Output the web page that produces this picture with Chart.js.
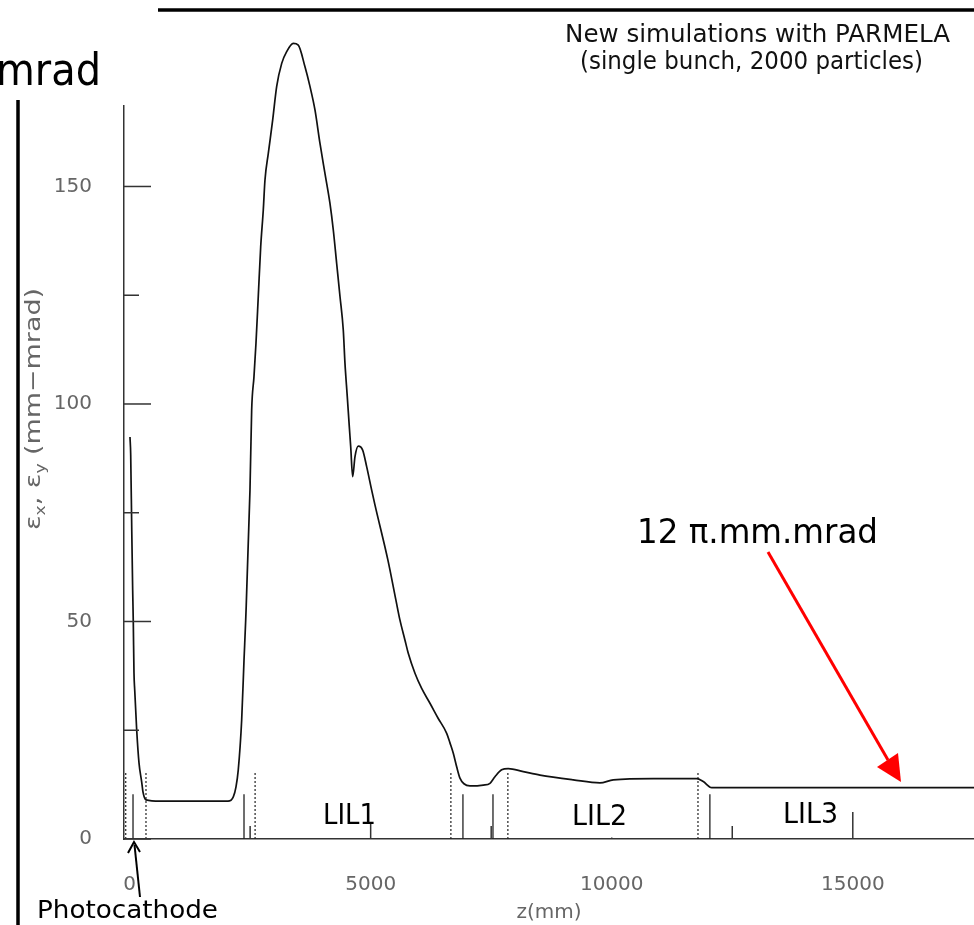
<!DOCTYPE html>
<html><head><meta charset="utf-8">
<script src="https://cdn.jsdelivr.net/npm/chart.js@4.4.1/dist/chart.umd.min.js"></script>
<style>
html,body{margin:0;padding:0;background:#fff;}
#wrap{position:relative;width:974px;height:925px;overflow:hidden;background:#fff;}
#c{position:absolute;left:0;top:0;}
#ann{position:absolute;left:0;top:0;pointer-events:none;}
</style></head><body>
<div id="wrap">
<canvas id="c" width="974" height="925"></canvas>
<svg id="ann" width="974" height="925" font-family="DejaVu Sans, sans-serif">
  <line x1="158" y1="10" x2="974" y2="10" stroke="#000" stroke-width="3.5"/>
  <line x1="18" y1="100" x2="18" y2="925" stroke="#000" stroke-width="3.5"/>
  <text x="-4" y="85" font-size="44" textLength="105" lengthAdjust="spacingAndGlyphs" fill="#000">mrad</text>
  <text x="565" y="42" font-size="24" textLength="385" lengthAdjust="spacingAndGlyphs" fill="#111">New simulations with PARMELA</text>
  <text x="580" y="68.5" font-size="24" textLength="343" lengthAdjust="spacingAndGlyphs" fill="#111">(single bunch, 2000 particles)</text>
  <text x="637" y="543" font-size="34" textLength="241" lengthAdjust="spacingAndGlyphs" fill="#000">12 π.mm.mrad</text>
  <rect x="318" y="798" width="64" height="26" fill="#fff"/>
  <text x="323" y="824" font-size="29" textLength="53" lengthAdjust="spacingAndGlyphs" fill="#000">LIL1</text>
  <rect x="566" y="798" width="68" height="39.5" fill="#fff"/>
  <text x="572" y="825" font-size="29" textLength="55" lengthAdjust="spacingAndGlyphs" fill="#000">LIL2</text>
  <text x="783" y="823" font-size="29" textLength="55" lengthAdjust="spacingAndGlyphs" fill="#000">LIL3</text>
  <text x="37" y="918" font-size="25" textLength="181" lengthAdjust="spacingAndGlyphs" fill="#000">Photocathode</text>
  <line x1="768" y1="552" x2="888" y2="760" stroke="#f00" stroke-width="3"/>
  <polygon points="901,782 877,767 898,753" fill="#f00"/>
  <line x1="140" y1="897" x2="134.5" y2="845" stroke="#000" stroke-width="2"/>
  <polyline points="128,853 134,842 140,852" fill="none" stroke="#000" stroke-width="2"/>
  <text x="40" y="409" transform="rotate(-90 40 409)" text-anchor="middle" font-size="22" fill="#666" textLength="242" lengthAdjust="spacingAndGlyphs">ε<tspan font-size="14" dy="5">x</tspan><tspan dy="-5">, ε</tspan><tspan font-size="14" dy="5">y</tspan><tspan dy="-5"> (mm−mrad)</tspan></text>
</svg>
</div>
<script>
// z positions (mm) and emittance values (mm-mrad)
const zPositions = [8, 23, 44, 64, 77, 91, 106, 147, 195, 251, 278, 340, 630, 1253, 2041,
  2151, 2207, 2254, 2325, 2373, 2408, 2497, 2532, 2580, 2621, 2669, 2719, 2773, 2808, 2877,
  2968, 3051, 3155, 3258, 3395, 3499, 3638, 3741, 3845, 3949, 4052, 4156, 4225, 4295, 4364,
  4432, 4467, 4515, 4557, 4586, 4627, 4675, 4743, 4834, 4917, 5021, 5089, 5358, 5524, 5608,
  5712, 5780, 5919, 6058, 6230, 6402, 6577, 6645, 6714, 6784, 6852, 6935, 7060, 7336, 7475,
  7578, 7717, 7854, 8165, 8512, 9202, 9756, 10032, 10862, 11762, 11899, 12073, 13074, 17514];
const emittance = [92.4, 88.3, 71.7, 57.2, 49.7, 38.2, 34.3, 25.1, 17.5, 13.1, 10.8, 9.0, 8.7, 8.7, 8.7,
  9.7, 12.0, 15.9, 27.4, 41.1, 50.3, 80.2, 98.6, 106.3, 113.9, 124.7, 136.1, 144.6, 151.5, 157.6,
  165.3, 173.0, 178.3, 181.0, 182.9, 182.5, 177.5, 173.0, 167.6, 159.9, 153.0, 146.1, 140.0, 132.3, 124.7,
  117.0, 109.4, 101.7, 94.8, 90.2, 83.3, 87.9, 90.3, 89.4, 85.6, 80.2, 76.8, 64.1, 54.9, 50.3,
  45.7, 42.7, 38.1, 34.6, 31.2, 27.7, 24.3, 22.1, 19.7, 16.6, 14.0, 12.7, 12.2, 12.4, 12.8,
  14.3, 15.9, 16.2, 15.5, 14.7, 13.6, 12.9, 13.6, 13.9, 13.9, 13.2, 11.8, 11.8, 11.8];
// beam-line element markers
const solidMarkerZ = [71, 2373, 6914, 7537, 12036];
const solidMarkerHeight = 10.3;
const dottedMarkerZ = [-80, 340, 2603, 6664, 7846, 11789];
const dottedMarkerHeight = 15.2;
// axes
const xTickValues = [0, 2500, 5000, 7500, 10000, 12500, 15000];
const yTickValues = [0, 25, 50, 75, 100, 125, 150];
const xRange = [-116, 17514];
const yRange = [0, 168.5];

function markerSegments(zs, h) {
  const d = [];
  zs.forEach(z => { d.push({x: z, y: 0}, {x: z, y: h}, {x: z, y: null}); });
  return d;
}

const tickMarks = {
  id: 'tickMarks',
  afterDatasetsDraw(chart) {
    const ctx = chart.ctx, xs = chart.scales.x, ys = chart.scales.y;
    const a = chart.chartArea;
    ctx.save();
    ctx.strokeStyle = '#333';
    ctx.lineWidth = 1.5;
    xs.ticks.forEach(t => {
      if (t.value === 0) return;
      const px = xs.getPixelForValue(t.value);
      const len = t.value % 5000 === 0 ? 27 : 13;
      ctx.beginPath(); ctx.moveTo(px, a.bottom); ctx.lineTo(px, a.bottom - len); ctx.stroke();
    });
    ys.ticks.forEach(t => {
      const py = ys.getPixelForValue(t.value);
      const len = t.value % 50 === 0 ? 27 : 15;
      ctx.beginPath(); ctx.moveTo(a.left, py); ctx.lineTo(a.left + len, py); ctx.stroke();
    });
    ctx.restore();
  }
};

Chart.defaults.font.family = 'DejaVu Sans';
new Chart(document.getElementById('c'), {
  type: 'scatter',
  data: {
    datasets: [
      {
        label: 'emittance',
        data: zPositions.map((z, i) => ({x: z, y: emittance[i]})),
        showLine: true, borderColor: '#111', borderWidth: 1.7, pointRadius: 0,
        cubicInterpolationMode: 'monotone', clip: false
      },
      {
        label: 'solid markers',
        data: markerSegments(solidMarkerZ, solidMarkerHeight),
        showLine: true, borderColor: '#222', borderWidth: 1.3, pointRadius: 0, spanGaps: false
      },
      {
        label: 'dotted markers',
        data: markerSegments(dottedMarkerZ, dottedMarkerHeight),
        showLine: true, borderColor: '#222', borderWidth: 1.2, borderDash: [2, 2],
        pointRadius: 0, spanGaps: false
      }
    ]
  },
  options: {
    responsive: false, animation: false, devicePixelRatio: 1,
    layout: {padding: {top: 106, left: 0, right: 0, bottom: 0}},
    plugins: {legend: {display: false}, tooltip: {enabled: false}},
    scales: {
      x: {
        type: 'linear', min: xRange[0], max: xRange[1],
        afterBuildTicks: s => { s.ticks = xTickValues.map(v => ({value: v})); },
        afterFit: s => { s.height = 86; },
        grid: {display: true, drawOnChartArea: false, drawTicks: false},
        border: {display: true, color: '#333', width: 1.5},
        ticks: {
          color: '#666', font: {size: 20}, padding: 34, maxRotation: 0, autoSkip: false,
          callback: v => (v % 5000 === 0 ? String(v) : '')
        },
        title: {display: true, text: 'z(mm)', color: '#666', font: {size: 20, lineHeight: 1.2}, padding: 0}
      },
      y: {
        type: 'linear', min: yRange[0], max: yRange[1],
        afterBuildTicks: s => { s.ticks = yTickValues.map(v => ({value: v})); },
        afterFit: s => { s.width = 124; },
        grid: {display: true, drawOnChartArea: false, drawTicks: false},
        border: {display: true, color: '#333', width: 1.5},
        ticks: {
          color: '#666', font: {size: 20}, padding: 32, autoSkip: false,
          callback: v => (v % 50 === 0 ? String(v) : '')
        }
      }
    }
  },
  plugins: [tickMarks]
});
</script>
</body></html>
